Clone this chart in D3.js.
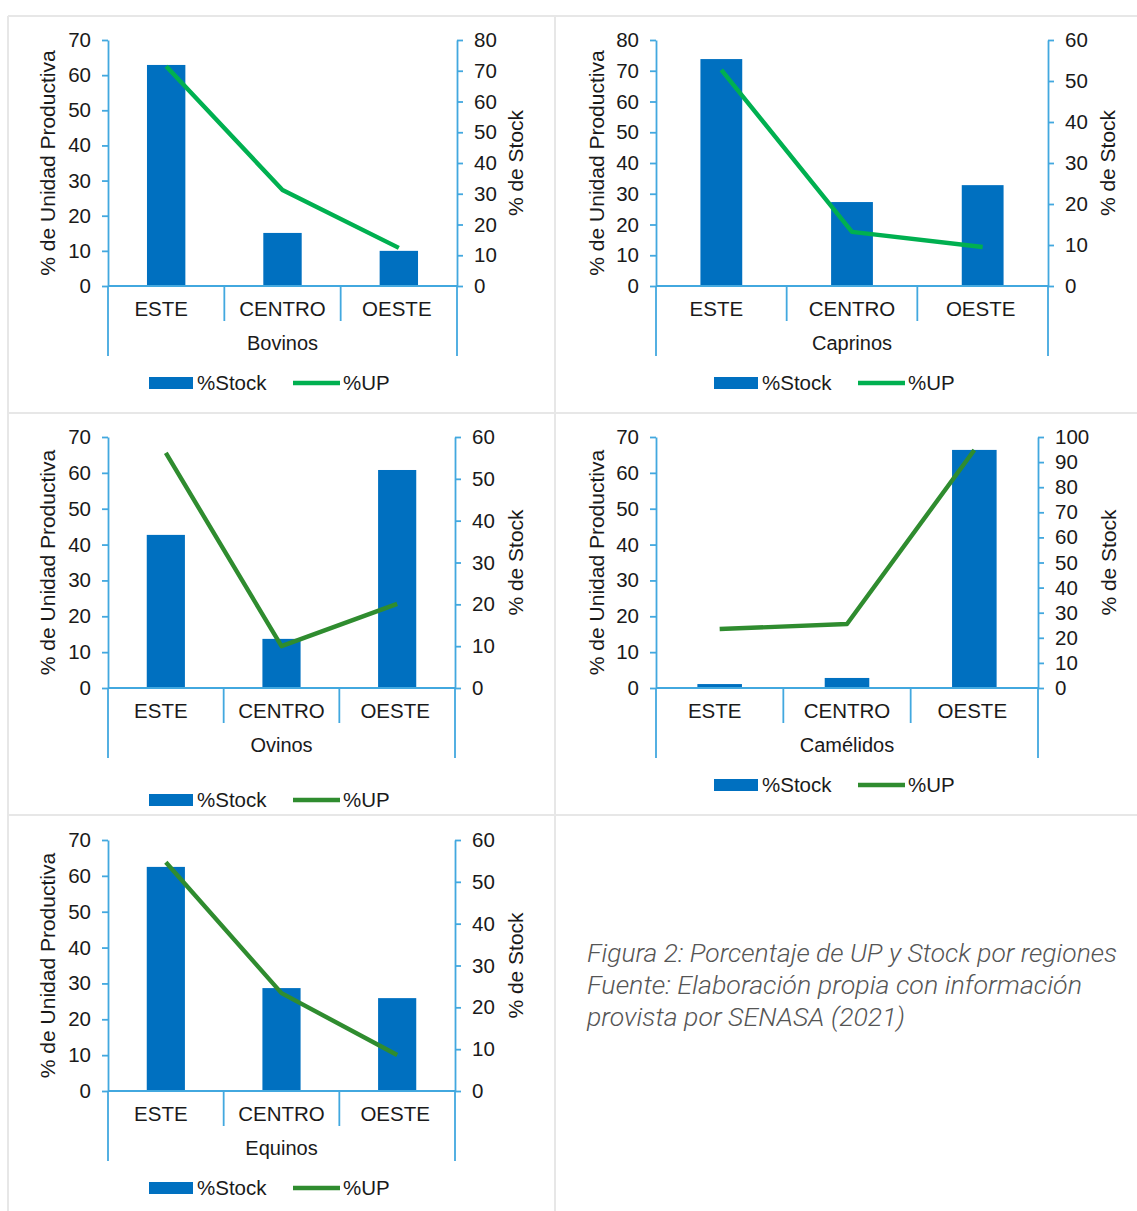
<!DOCTYPE html>
<html><head><meta charset="utf-8">
<script src="https://cdn.jsdelivr.net/npm/d3@7"></script>
<style>body{margin:0;background:#fff}svg{display:block}</style>
</head><body>
<script>
// ---------- data ----------
const categories = ["ESTE", "CENTRO", "OESTE"];
const speciesNames = ["Bovinos", "Caprinos", "Ovinos", "Camélidos", "Equinos"];
const stockBovinos = [62.9, 15.1, 10.0];
const upBovinos = [71.5, 31.2, 12.4];
const stockCaprinos = [73.8, 27.3, 32.8];
const upCaprinos = [52.7, 13.2, 9.5];
const stockOvinos = [42.7, 13.7, 60.8];
const upOvinos = [56.2, 10.0, 20.1];
const stockCamelidos = [1.1, 2.8, 66.4];
const upCamelidos = [23.5, 25.5, 94.8];
const stockEquinos = [62.5, 28.7, 25.9];
const upEquinos = [54.7, 23.4, 8.6];
const stockSeries = [stockBovinos, stockCaprinos, stockOvinos, stockCamelidos, stockEquinos];
const upSeries = [upBovinos, upCaprinos, upOvinos, upCamelidos, upEquinos];
const leftMax = [70, 80, 70, 70, 70];
const rightMax = [80, 60, 60, 100, 60];
const tickStep = 10;
const legendLabels = ["%Stock", "%UP"];
const leftTitle = "% de Unidad Productiva";
const rightTitle = "% de Stock";
const captionLines = [
  "Figura 2: Porcentaje de UP y Stock por regiones",
  "Fuente: Elaboración propia con información",
  "provista por SENASA (2021)"
];

// ---------- layout ----------
const W = 1137, H = 1211;
const FONT = "'Liberation Sans', Arial, sans-serif";
const AXIS = "#42a8df";
const BAR = "#0070c0";
const TEXT = "#1a1a1a";
const layout = [
  {x0:108, x1:457, y0:40,  y1:286,  line:"#00b050", legY:383,  legX:149, ltx:48,  rtx:516,  barW:0.33},
  {x0:656, x1:1048,y0:40,  y1:286,  line:"#00b050", legY:383,  legX:714, ltx:597, rtx:1108, barW:0.32},
  {x0:108, x1:455, y0:437, y1:688,  line:"#2f8c2f", legY:800,  legX:149, ltx:48,  rtx:516,  barW:0.33},
  {x0:656, x1:1038,y0:437, y1:688,  line:"#2f8c2f", legY:785,  legX:714, ltx:597, rtx:1109, barW:0.35},
  {x0:108, x1:455, y0:840, y1:1091, line:"#2f8c2f", legY:1188, legX:149, ltx:48,  rtx:516,  barW:0.33}
];

const svg = d3.select("body").append("svg").attr("width", W).attr("height", H)
  .style("font-family", FONT);

// panel borders
const border = "#e7e7e7";
const borders = [
  [8, 16, W, 16], [8, 413, W, 413], [8, 815, W, 815],
  [8, 16, 8, H], [555, 16, 555, H]
];
svg.selectAll("line.border").data(borders).enter().append("line")
  .attr("x1", d => d[0]).attr("y1", d => d[1]).attr("x2", d => d[2]).attr("y2", d => d[3])
  .attr("stroke", border).attr("stroke-width", 2);

speciesNames.forEach((name, i) => {
  const L = layout[i];
  const g = svg.append("g");
  const x = d3.scaleBand().domain(categories).range([L.x0, L.x1]).padding(0);
  const yl = d3.scaleLinear().domain([0, leftMax[i]]).range([L.y1, L.y0]);
  const yr = d3.scaleLinear().domain([0, rightMax[i]]).range([L.y1, L.y0]);

  // bars
  const bw = x.bandwidth() * L.barW;
  g.selectAll("rect.bar").data(stockSeries[i]).enter().append("rect")
    .attr("x", (d, k) => x(categories[k]) + x.bandwidth() / 2 - bw / 2)
    .attr("width", bw)
    .attr("y", d => yl(d))
    .attr("height", d => yl(0) - yl(d))
    .attr("fill", BAR);

  // left axis
  const ga = g.append("g").attr("transform", `translate(${L.x0},0)`)
    .call(d3.axisLeft(yl).tickValues(d3.range(0, leftMax[i] + 1, tickStep)).tickSize(6).tickSizeOuter(0).tickPadding(11));
  // right axis
  const gb = g.append("g").attr("transform", `translate(${L.x1},0)`)
    .call(d3.axisRight(yr).tickValues(d3.range(0, rightMax[i] + 1, tickStep)).tickSize(6).tickSizeOuter(0).tickPadding(11));
  [ga, gb].forEach(a => {
    a.selectAll("path,line").attr("stroke", AXIS).attr("stroke-width", 1.8);
    a.selectAll("text").attr("fill", TEXT).style("font-size", "20.5px").style("font-family", FONT);
  });

  // x axis line and category separators
  g.append("line").attr("x1", L.x0).attr("x2", L.x1).attr("y1", L.y1).attr("y2", L.y1)
    .attr("stroke", AXIS).attr("stroke-width", 1.8);
  const bounds = [L.x0, ...categories.slice(1).map(c => x(c)), L.x1];
  g.selectAll("line.sep").data(bounds).enter().append("line")
    .attr("x1", d => d).attr("x2", d => d).attr("y1", L.y1)
    .attr("y2", (d, k) => (k === 0 || k === bounds.length - 1) ? L.y1 + 70 : L.y1 + 35)
    .attr("stroke", AXIS).attr("stroke-width", 1.8);

  // category labels
  g.selectAll("text.cat").data(categories).enter().append("text")
    .attr("x", (d, k) => x(d) + x.bandwidth() / 2 - (k === 0 ? 5 : 0) - (k === 2 ? 2 : 0)).attr("y", L.y1 + 30)
    .attr("text-anchor", "middle").attr("fill", TEXT).style("font-size", "20.5px").text(d => d);
  g.append("text").attr("x", (L.x0 + L.x1) / 2).attr("y", L.y1 + 64)
    .attr("text-anchor", "middle").attr("fill", TEXT).style("font-size", "20px").text(name);

  // line series
  const line = d3.line().x((d, k) => x(categories[k]) + x.bandwidth() / 2).y(d => yr(d));
  g.append("path").datum(upSeries[i]).attr("d", line).attr("fill", "none")
    .attr("stroke", L.line).attr("stroke-width", 4.4).attr("stroke-linejoin", "round");

  // axis titles
  const midY = (L.y0 + L.y1) / 2;
  g.append("text").attr("transform", `translate(${L.ltx + 7},${midY}) rotate(-90)`)
    .attr("text-anchor", "middle").attr("fill", TEXT).style("font-size", "21px").text(leftTitle);
  g.append("text").attr("transform", `translate(${L.rtx + 7},${midY}) rotate(-90)`)
    .attr("text-anchor", "middle").attr("fill", TEXT).style("font-size", "21px").text(rightTitle);

  // legend
  g.append("rect").attr("x", L.legX).attr("y", L.legY - 6).attr("width", 44).attr("height", 12).attr("fill", BAR);
  g.append("text").attr("x", L.legX + 48).attr("y", L.legY + 7).attr("fill", TEXT)
    .style("font-size", "20.5px").text(legendLabels[0]);
  g.append("line").attr("x1", L.legX + 144).attr("x2", L.legX + 191).attr("y1", L.legY).attr("y2", L.legY)
    .attr("stroke", L.line).attr("stroke-width", 4.4);
  g.append("text").attr("x", L.legX + 194).attr("y", L.legY + 7).attr("fill", TEXT)
    .style("font-size", "20.5px").text(legendLabels[1]);
});

// caption
const capWidths = [530, 495, 318];
svg.selectAll("text.cap").data(captionLines).enter().append("text")
  .attr("x", 587).attr("y", (d, k) => 962 + k * 32)
  .attr("fill", "#555").style("font-family", "Roboto, 'Open Sans', sans-serif")
  .style("font-weight", 300).style("font-style", "italic").style("font-size", "25px")
  .attr("textLength", (d, k) => capWidths[k]).attr("lengthAdjust", "spacingAndGlyphs")
  .text(d => d);
</script>
</body></html>
